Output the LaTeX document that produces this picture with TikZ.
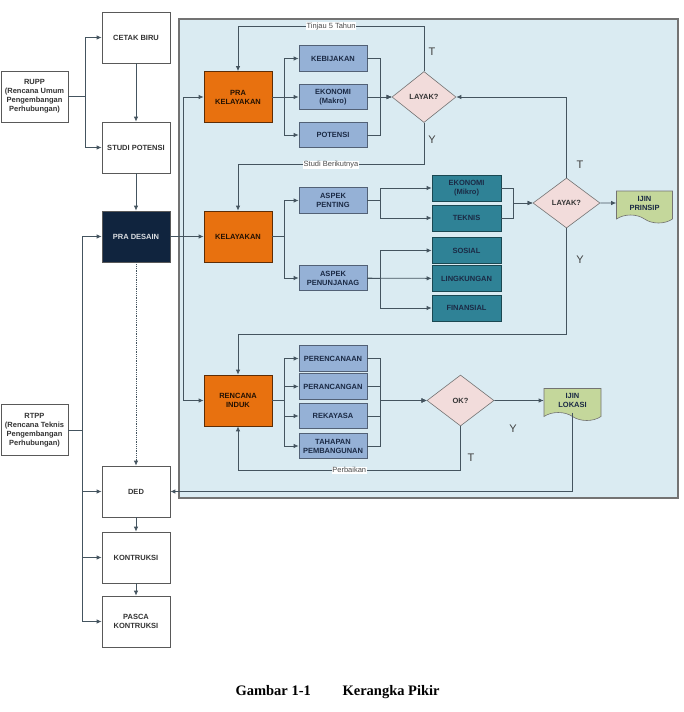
\documentclass[tikz,border=0pt]{standalone}
\usepackage{fontspec}
\setmainfont{Liberation Sans}
\newfontfamily\judulfont{Liberation Serif}
\usetikzlibrary{arrows.meta,shapes.geometric,shapes.symbols}
\definecolor{oranye}{HTML}{E8710F}
\definecolor{birumuda}{HTML}{95B1D6}
\definecolor{tosca}{HTML}{2F8296}
\definecolor{merahmuda}{HTML}{F2DCDB}
\definecolor{hijau}{HTML}{C4D79B}
\definecolor{latar}{HTML}{DAEBF2}
\definecolor{navy}{HTML}{10243E}
\definecolor{garis}{HTML}{44545F}
\definecolor{tulisan}{HTML}{1B2A45}
\begin{document}
\begin{tikzpicture}[x=1pt,y=-1pt,>={Latex[length=5pt,width=4.5pt]}]
        \useasboundingbox (0,0) rectangle (683,712);
        \tikzstyle{kotak}=[rectangle,draw=black!65,line width=0.7pt,align=center,inner sep=1pt,
            font=\fontsize{7.5}{9}\selectfont\bfseries]
        \tikzstyle{putih}=[kotak,fill=white,text=black!80,minimum width=68,minimum height=51]
        \tikzstyle{jingga}=[kotak,fill=oranye,draw=black!60!oranye,text=black!85!oranye,minimum width=68,minimum height=51]
        \tikzstyle{biru}=[kotak,fill=birumuda,draw=black!45!birumuda,text=tulisan,minimum width=68,minimum height=25.5]
        \tikzstyle{teal}=[kotak,fill=tosca,draw=black!45!tosca,text=tulisan,minimum width=69,minimum height=26]
        \tikzstyle{belah}=[diamond,draw=black!55,line width=0.6pt,fill=merahmuda,inner sep=0pt,text=black!80,
            minimum width=66,minimum height=51,font=\fontsize{7.5}{9}\selectfont\bfseries]
        \tikzstyle{dok}=[tape,tape bend top=no bend,tape bend bottom=out and in,tape bend height=8,
            draw=black!55,line width=0.6pt,fill=hijau,align=center,text=tulisan,
            minimum width=56,minimum height=40,font=\fontsize{7.5}{9}\selectfont\bfseries]
        \tikzstyle{panah}=[->,draw=garis,line width=0.8pt]
        \tikzstyle{ket}=[fill=white,inner sep=0.6pt,text=black!70,font=\fontsize{7.5}{9}\selectfont]
        \tikzstyle{ty}=[text=black!75,font=\fontsize{11}{13}\selectfont]
        % panel kelayakan
        \draw[draw=black!55,fill=latar,line width=1.2pt] (179,19) rectangle (678,498);
        % kolom kiri
        \node[putih] (cetak) at (136,37.5) {CETAK BIRU};
        \node[putih] (studi) at (136,147.5) {STUDI POTENSI};
        \node[putih,fill=navy,text=white!85!navy] (pradesain) at (136,236.5) {PRA DESAIN};
        \node[putih] (ded) at (136,491.5) {DED};
        \node[putih] (kontruksi) at (136,557.5) {KONTRUKSI};
        \node[putih] (pasca) at (136,621.5) {PASCA\\KONTRUKSI};
        \node[putih,minimum width=67] (rupp) at (34.5,96.5) {RUPP\\(Rencana Umum\\Pengembangan\\Perhubungan)};
        \node[putih,minimum width=67] (rtpp) at (34.5,430) {RTPP\\(Rencana Teknis\\Pengembangan\\Perhubungan)};
        % tahap
        \node[jingga] (prakel) at (238,97) {PRA\\KELAYAKAN};
        \node[jingga] (kelayakan) at (238,236.5) {KELAYAKAN};
        \node[jingga] (rencana) at (238,400.5) {RENCANA\\INDUK};
        \node[biru] (kebijakan) at (333,58.5) {KEBIJAKAN};
        \node[biru] (ekomakro) at (333,97) {EKONOMI\\(Makro)};
        \node[biru] (potensi) at (333,135) {POTENSI};
        \node[biru] (aspekpenting) at (333,200.5) {ASPEK\\PENTING};
        \node[biru] (aspekpenunjang) at (333,278) {ASPEK\\PENUNJANAG};
        \node[biru] (perencanaan) at (333,358.5) {PERENCANAAN};
        \node[biru] (perancangan) at (333,386.5) {PERANCANGAN};
        \node[biru] (rekayasa) at (333,416) {REKAYASA};
        \node[biru] (tahapan) at (333,446) {TAHAPAN\\PEMBANGUNAN};
        \node[teal] (ekomikro) at (466.5,188) {EKONOMI\\(Mikro)};
        \node[teal] (teknis) at (466.5,218) {TEKNIS};
        \node[teal] (sosial) at (466.5,250.5) {SOSIAL};
        \node[teal] (lingkungan) at (466.5,278.5) {LINGKUNGAN};
        \node[teal] (finansial) at (466.5,308) {FINANSIAL};
        \node[belah,minimum width=64] (layak1) at (424,97) {LAYAK?};
        \node[belah,minimum width=67,minimum height=50] (layak2) at (566.5,203) {LAYAK?};
        \node[belah,minimum width=67] (ok) at (460.5,400.5) {OK?};
        \node[dok] (ijinprinsip) at (644.5,203) {IJIN\\PRINSIP};
        \node[dok,minimum width=57] (ijinlokasi) at (572.5,400.5) {IJIN\\LOKASI};
        \node[ty] (t1) at (432,52) {T};
        \node[ty] (y1) at (432,140) {Y};
        \node[ty] (t2) at (580,165) {T};
        \node[ty] (y2) at (580,260) {Y};
        \node[ty] (y3) at (513,429) {Y};
        \node[ty] (t3) at (471,458) {T};
        % garis kiri
        \draw[panah] (rupp.east) -- ++(17,0) |- (cetak);
        \draw[panah] (rupp.east) -- ++(17,0) |- (studi);
        \draw[panah] (cetak) -- (studi);
        \draw[panah] (studi) -- (pradesain);
        \draw[panah,densely dotted] (pradesain) -- (ded);
        \draw[panah] (ded) -- (kontruksi);
        \draw[panah] (kontruksi) -- (pasca);
        \draw[panah] (rtpp.east) -- ++(14,0) |- (pradesain);
        \draw[panah] (rtpp.east) -- ++(14,0) |- (ded);
        \draw[panah] (rtpp.east) -- ++(14,0) |- (kontruksi);
        \draw[panah] (rtpp.east) -- ++(14,0) |- (pasca);
        \draw[panah] (pradesain) -- (kelayakan);
        \draw[panah] (pradesain.east) -- ++(13,0) |- (prakel);
        \draw[panah] (pradesain.east) -- ++(13,0) |- (rencana);
        % pra kelayakan
        \draw[panah] (prakel.east) -- ++(12,0) |- (kebijakan);
        \draw[panah] (prakel) -- (ekomakro);
        \draw[panah] (prakel.east) -- ++(12,0) |- (potensi);
        \draw[panah] (kebijakan.east) -- ++(13,0) |- (layak1);
        \draw[panah] (ekomakro) -- (layak1);
        \draw[panah] (potensi.east) -- ++(13,0) |- (layak1);
        \draw[panah] (layak1.north) -- ++(0,-45) -| node[ket,pos=0.25] {Tinjau 5 Tahun} (prakel.north);
        \draw[panah] (layak1.south) -- ++(0,42) -| node[ket,pos=0.25] {Studi Berikutnya} (kelayakan.north);
        % kelayakan
        \draw[panah] (kelayakan.east) -- ++(12,0) |- (aspekpenting);
        \draw[panah] (kelayakan.east) -- ++(12,0) |- (aspekpenunjang);
        \draw[panah] (aspekpenting.east) -- ++(13,0) |- (ekomikro);
        \draw[panah] (aspekpenting.east) -- ++(13,0) |- (teknis);
        \draw[panah] (aspekpenunjang.east) -- ++(13,0) |- (sosial);
        \draw[panah] (aspekpenunjang) -- (lingkungan);
        \draw[panah] (aspekpenunjang.east) -- ++(13,0) |- (finansial);
        \draw[panah] (ekomikro.east) -- ++(12,0) |- (layak2);
        \draw[panah] (teknis.east) -- ++(12,0) |- (layak2);
        \draw[panah] (layak2) -- (ijinprinsip);
        \draw[panah] (layak2.north) |- (layak1.east);
        \draw[panah] (layak2.south) -- ++(0,106) -| (rencana.north);
        % rencana induk
        \draw[panah] (rencana.east) -- ++(12,0) |- (perencanaan);
        \draw[panah] (rencana.east) -- ++(12,0) |- (perancangan);
        \draw[panah] (rencana.east) -- ++(12,0) |- (rekayasa);
        \draw[panah] (rencana.east) -- ++(12,0) |- (tahapan);
        \draw[panah] (perencanaan.east) -- ++(13,0) |- (ok);
        \draw[panah] (perancangan.east) -- ++(13,0) |- (ok);
        \draw[panah] (rekayasa.east) -- ++(13,0) |- (ok);
        \draw[panah] (tahapan.east) -- ++(13,0) |- (ok);
        \draw[panah] (ok) -- (ijinlokasi);
        \draw[panah] (ok.south) -- ++(0,44) -| node[ket,pos=0.25] {Perbaikan} (rencana.south);
        \draw[panah] (ijinlokasi.south) |- (ded.east);
        % judul
        \node[anchor=base west,font=\judulfont\bfseries\fontsize{14.5}{17}\selectfont] (gambar) at (232,695) {Gambar 1-1};
        \node[anchor=base west,font=\judulfont\bfseries\fontsize{14.5}{17}\selectfont] (judul) at (339,695) {Kerangka Pikir};
\end{tikzpicture}
\end{document}
